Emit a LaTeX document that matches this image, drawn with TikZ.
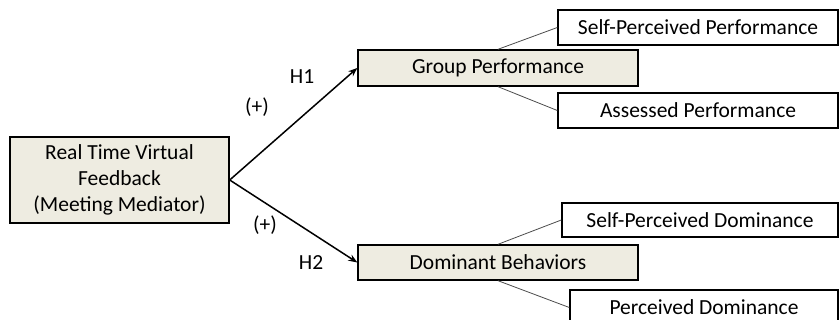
\documentclass[tikz,border=0pt]{standalone}
\usepackage{fontspec}
\setmainfont{Carlito}
\usetikzlibrary{arrows.meta}
\definecolor{boxfill}{HTML}{EEECE1}
\tikzset{
  box/.style={draw=black, line width=1.4pt, rectangle, inner sep=0pt, align=center,
    font=\fontsize{21.5}{26}\selectfont},
  mainbox/.style={box, fill=boxfill},
  subbox/.style={box, fill=white},
  arr/.style={line width=1.5pt, -{Stealth[length=9pt,width=7pt]}},
  thin/.style={draw=black!70, line width=0.8pt},
  lbl/.style={font=\fontsize{21.5}{24}\selectfont, inner sep=0pt}
}
\begin{document}
\begin{tikzpicture}[x=1pt,y=-1pt]
\useasboundingbox (0,0) rectangle (839,320);
\node[mainbox, minimum width=219pt, minimum height=86pt] (rt) at (119.5,180) {\raisebox{-2pt}{\begin{tabular}{@{}c@{}}Real Time Virtual\\Feedback\\(Meeting Mediator)\end{tabular}}};
\node[mainbox, minimum width=280pt, minimum height=36pt] (g) at (498,68) {\raisebox{-1pt}{Group Performance}};
\node[mainbox, minimum width=280pt, minimum height=35pt] (d) at (498,262.5) {\raisebox{-1pt}{Dominant Behaviors}};
\node[subbox, minimum width=280pt, minimum height=35pt] (spp) at (698,27.5) {Self-Perceived Performance};
\node[subbox, minimum width=280pt, minimum height=35pt] (ap) at (698,110.5) {Assessed Performance};
\node[subbox, minimum width=276pt, minimum height=34pt] (spd) at (700,220) {Self-Perceived Dominance};
\node[subbox, minimum width=268pt, minimum height=35pt] (pd) at (704,307.5) {Perceived Dominance};
\draw[thin] (g.north) -- (spp.west);
\draw[thin] (g.south) -- (ap.west);
\draw[thin] (d.north) -- (spd.west);
\draw[thin] (d.south) -- (pd.west);
\draw[arr] (rt.east) -- (g.west);
\draw[arr] (rt.east) -- (d.west);
\node[lbl] (h1) at (302,77) {H1};
\node[lbl] (p1) at (257,107) {(+)};
\node[lbl] (p2) at (265,225) {(+)};
\node[lbl] (h2) at (311,263) {H2};
\end{tikzpicture}
\end{document}
